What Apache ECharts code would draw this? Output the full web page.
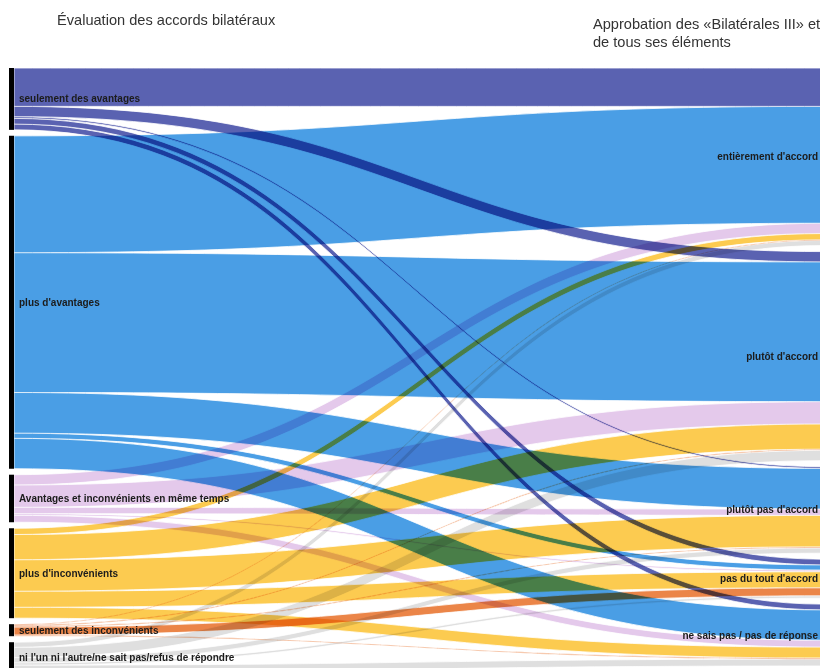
<!DOCTYPE html>
<html>
<head>
<meta charset="utf-8">
<script src="https://cdn.jsdelivr.net/npm/echarts@6/dist/echarts.min.js"></script>
<style>
  html, body { margin: 0; padding: 0; background: #fff; }
  #chart { width: 820px; height: 668px; }
  /* links are multiplied over each other, like in the original */
  #chart svg path { mix-blend-mode: multiply; }
</style>
</head>
<body>
<div id="chart"></div>
<script>
// left column: evaluation of the bilateral agreements
const sources = [
    'seulement des avantages',
    "plus d'avantages",
    'Avantages et inconvénients en même temps',
    "plus d'inconvénients",
    'seulement des inconvénients',
    "ni l'un ni l'autre/ne sait pas/refus de répondre"
];
// right column: approval of the Bilaterals III
const targets = [
    "entièrement d'accord",
    "plutôt d'accord",
    "plutôt pas d'accord",
    "pas du tout d'accord",
    'ne sais pas / pas de réponse'
];

// share (%) going from each source to each target, same order as targets
const seulAvantages   = [6.7, 1.8, 0.3, 1.0, 1.0];
const plusAvantages   = [20.4, 24.4, 7.1, 0.9, 5.3];
const avantagesInconv = [1.8, 3.9, 1.1, 0.3, 1.2];
const plusInconv      = [1.1, 4.4, 5.5, 2.8, 1.9];
const seulInconv      = [0.1, 0.2, 0.2, 1.4, 0.2];
const niLunNiLautre   = [0.9, 1.8, 0.9, 0.4, 1.2];

const flows = [seulAvantages, plusAvantages, avantagesInconv, plusInconv, seulInconv, niLunNiLautre];
const sourceColors = ['#5A62B1', '#4A9EE5', '#E4C9EB', '#FCCB50', '#EB8548', '#DFDFDF'];

const labelFont = {
    fontSize: 10,
    fontWeight: 600,
    color: '#1c1c1c',
    fontFamily: 'Liberation Sans'
};

const nodes = [];
sources.forEach(function (name) {
    nodes.push({
        name: name,
        itemStyle: { color: '#000' },
        label: Object.assign({ position: 'right', distance: 5 }, labelFont)
    });
});
targets.forEach(function (name) {
    nodes.push({
        name: name,
        itemStyle: { color: '#000' },
        label: Object.assign({ position: 'left', distance: 5 }, labelFont)
    });
});

const links = [];
flows.forEach(function (row, i) {
    row.forEach(function (v, j) {
        links.push({
            source: sources[i],
            target: targets[j],
            value: v,
            lineStyle: { color: sourceColors[i] }
        });
    });
});

const chart = echarts.init(document.getElementById('chart'), null, { renderer: 'svg' });

const titleStyle = {
    fontSize: 14.6,
    fontWeight: 'normal',
    color: '#333',
    fontFamily: 'Liberation Sans',
    lineHeight: 18
};

chart.setOption({
    backgroundColor: '#fff',
    animation: false,
    title: [
        {
            text: 'Évaluation des accords bilatéraux',
            left: 57,
            top: 11,
            padding: 0,
            textStyle: titleStyle
        },
        {
            text: 'Approbation des «Bilatérales III» et\nde tous ses éléments',
            left: 593,
            top: 15,
            padding: 0,
            textStyle: titleStyle
        }
    ],
    series: [
        {
            type: 'sankey',
            left: 9,
            right: -8,
            top: 68,
            bottom: -4,
            nodeWidth: 5,
            nodeGap: 6,
            layoutIterations: 0,
            draggable: false,
            emphasis: { disabled: true },
            lineStyle: {
                opacity: 1,
                curveness: 0.5,
                borderColor: '#fff',
                borderWidth: 0.8
            },
            data: nodes,
            links: links
        }
    ]
});
</script>
</body>
</html>
